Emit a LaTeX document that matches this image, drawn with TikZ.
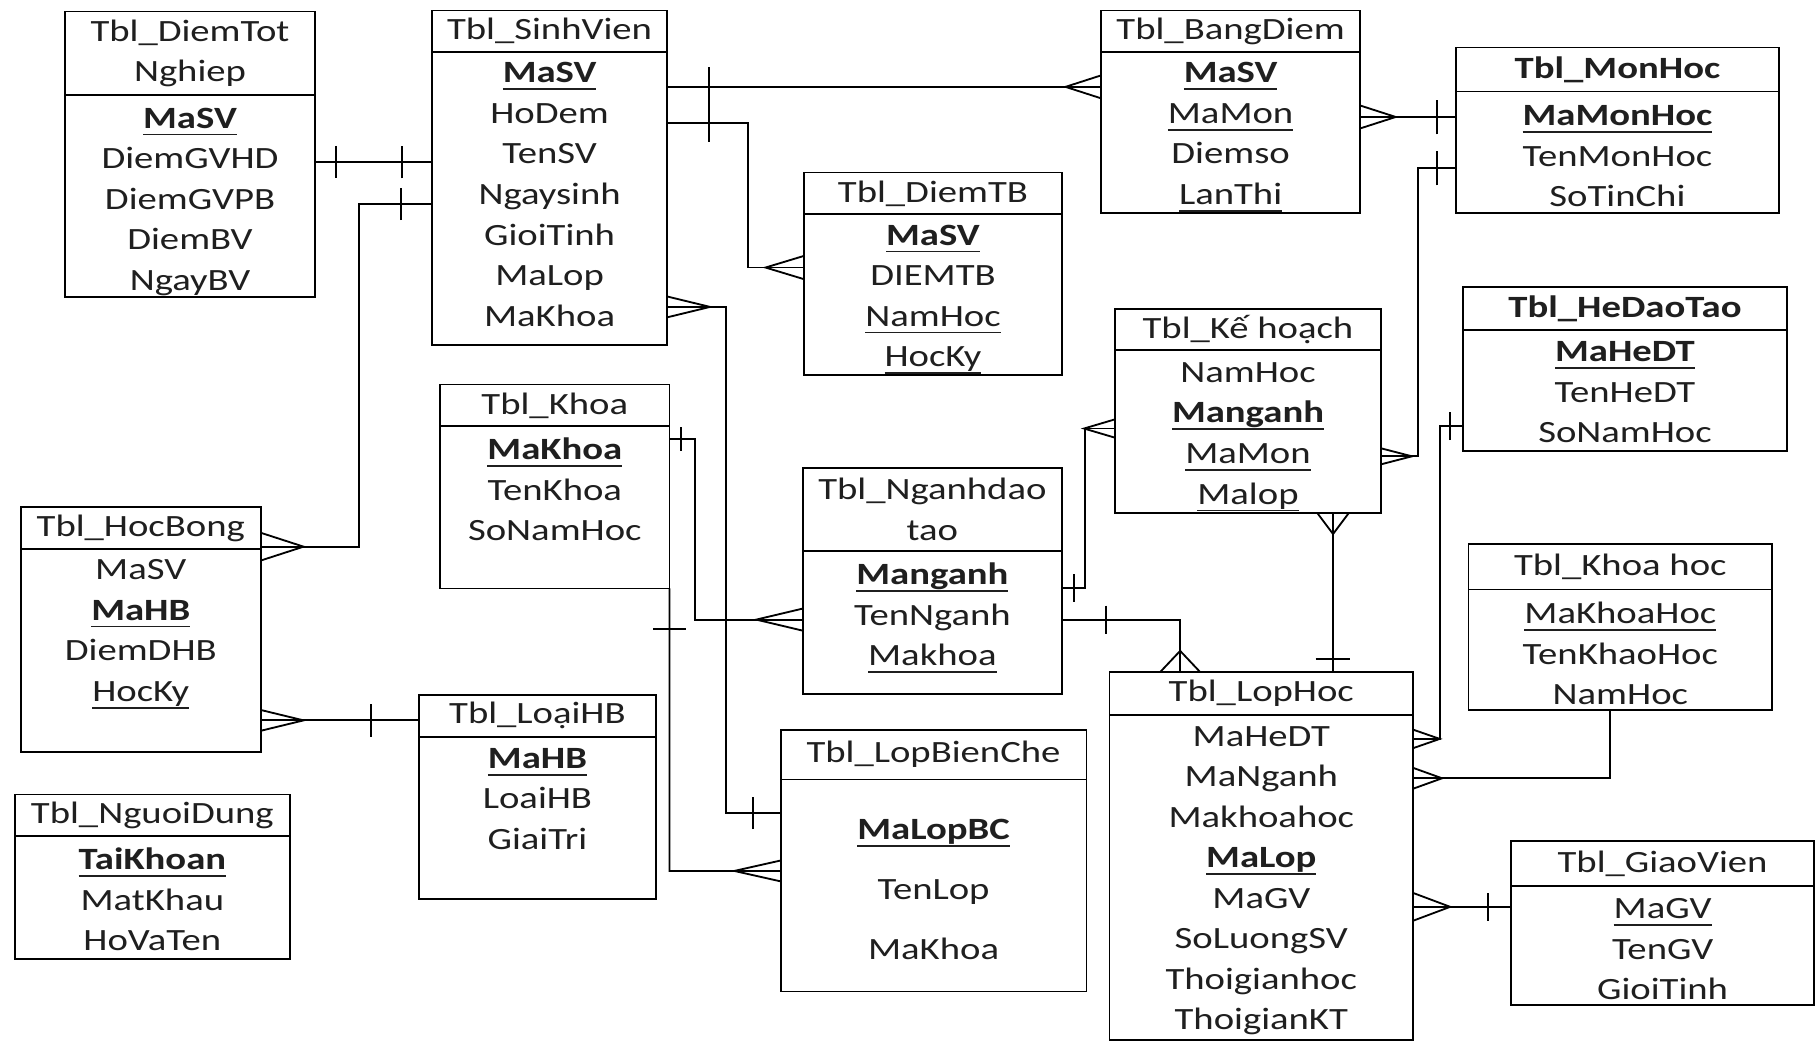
\documentclass[tikz,border=0pt]{standalone}
\usepackage{fontspec}
\setmainfont{Carlito}[FakeStretch=1.25]
\usetikzlibrary{positioning}

\newcommand{\tblfont}{\fontsize{7.6pt}{0.35cm}\selectfont}
\newcommand{\tblfontwide}{\fontsize{7.6pt}{0.52cm}\selectfont}
\newcommand{\keyul}[1]{\setbox0=\hbox{#1}\rlap{\rule[-1.8pt]{\wd0}{0.45pt}}\box0}
\newcommand{\pkey}[1]{\keyul{\textbf{#1}}}

\tikzset{
    tblhead/.style 2 args={
        draw, anchor=north west,
        minimum width=#1, minimum height=#2,
        inner sep=0pt, outer sep=0pt,
        align=center, font=\tblfont
    },
    tblbody/.style 2 args={
        draw, minimum width=#1, minimum height=#2,
        inner sep=0pt, outer sep=0pt
    },
    tblrows/.style={
        align=center, inner sep=0pt, outer sep=0pt, font=\tblfont
    },
    pics/bar/.style 2 args={
        code={\draw (#1,-#2) -- (#1,#2);}
    },
    pics/crow/.style 2 args={
        code={\draw (0,#2) -- (#1,0) -- (0,-#2);}
    }
}

\begin{document}
\begin{tikzpicture}[x=0.01cm, y=-0.01cm, line width=0.45pt, text=black!88]
\path[use as bounding box, fill=white] (0,0) rectangle (1568,900);

% Bảng
\node[tblhead={2.16cm}{0.72cm}] (dtn) at (56,10) {Tbl\_DiemTot\\Nghiep};
\node[tblbody={2.16cm}{1.74cm}, below=0pt of dtn] (dtn-b) {};
\node[tblrows, below=0.11cm of dtn] (dtn-r) {\pkey{MaSV}\\DiemGVHD\\DiemGVPB\\DiemBV\\NgayBV};

\node[tblhead={2.03cm}{0.36cm}] (sv) at (373,9) {Tbl\_SinhVien};
\node[tblbody={2.03cm}{2.53cm}, below=0pt of sv] (sv-b) {};
\node[tblrows, below=0.09cm of sv] (sv-r) {\pkey{MaSV}\\HoDem\\TenSV\\Ngaysinh\\GioiTinh\\MaLop\\MaKhoa};

\node[tblhead={2.23cm}{0.36cm}] (bd) at (951,9) {Tbl\_BangDiem};
\node[tblbody={2.23cm}{1.39cm}, below=0pt of bd] (bd-b) {};
\node[tblrows, below=0.09cm of bd] (bd-r) {\pkey{MaSV}\\\keyul{MaMon}\\Diemso\\\keyul{LanThi}};

\node[tblhead={2.79cm}{0.38cm}] (mh) at (1257,41) {\textbf{Tbl\_MonHoc}};
\node[tblbody={2.79cm}{1.05cm}, below=0pt of mh] (mh-b) {};
\node[tblrows, below=0.12cm of mh] (mh-r) {\pkey{MaMonHoc}\\TenMonHoc\\SoTinChi};

\node[tblhead={2.23cm}{0.36cm}] (dtb) at (694,149) {Tbl\_DiemTB};
\node[tblbody={2.23cm}{1.39cm}, below=0pt of dtb] (dtb-b) {};
\node[tblrows, below=0.09cm of dtb] (dtb-r) {\pkey{MaSV}\\DIEMTB\\\keyul{NamHoc}\\\keyul{HocKy}};

\node[tblhead={2.29cm}{0.35cm}] (kehoach) at (963,267) {Tbl\_Kế hoạch};
\node[tblbody={2.29cm}{1.41cm}, below=0pt of kehoach] (kehoach-b) {};
\node[tblrows, below=0.11cm of kehoach] (kehoach-r) {NamHoc\\\pkey{Manganh}\\\keyul{MaMon}\\\keyul{Malop}};

\node[tblhead={2.80cm}{0.37cm}] (hdt) at (1263,248) {\textbf{Tbl\_HeDaoTao}};
\node[tblbody={2.80cm}{1.04cm}, below=0pt of hdt] (hdt-b) {};
\node[tblrows, below=0.10cm of hdt] (hdt-r) {\pkey{MaHeDT}\\TenHeDT\\SoNamHoc};

\node[tblhead={1.98cm}{0.36cm}] (khoa) at (380,332) {Tbl\_Khoa};
\node[tblbody={1.98cm}{1.40cm}, below=0pt of khoa] (khoa-b) {};
\node[tblrows, below=0.10cm of khoa] (khoa-r) {\pkey{MaKhoa}\\TenKhoa\\SoNamHoc};

\node[tblhead={2.24cm}{0.72cm}] (nganh) at (693,404) {Tbl\_Nganhdao\\tao};
\node[tblbody={2.24cm}{1.23cm}, below=0pt of nganh] (nganh-b) {};
\node[tblrows, below=0.10cm of nganh] (nganh-r) {\pkey{Manganh}\\TenNganh\\\keyul{Makhoa}};

\node[tblhead={2.07cm}{0.36cm}] (hb) at (18,438) {Tbl\_HocBong};
\node[tblbody={2.07cm}{1.75cm}, below=0pt of hb] (hb-b) {};
\node[tblrows, below=0.09cm of hb] (hb-r) {MaSV\\\pkey{MaHB}\\DiemDHB\\\keyul{HocKy}};

\node[tblhead={2.62cm}{0.39cm}] (khoahoc) at (1268,470) {Tbl\_Khoa hoc};
\node[tblbody={2.62cm}{1.04cm}, below=0pt of khoahoc] (khoahoc-b) {};
\node[tblrows, below=0.11cm of khoahoc] (khoahoc-r) {\keyul{MaKhoaHoc}\\TenKhaoHoc\\NamHoc};

\node[tblhead={2.04cm}{0.36cm}] (lhb) at (362,600) {Tbl\_LoạiHB};
\node[tblbody={2.04cm}{1.40cm}, below=0pt of lhb] (lhb-b) {};
\node[tblrows, below=0.10cm of lhb] (lhb-r) {\pkey{MaHB}\\LoaiHB\\GiaiTri};

\node[tblhead={2.64cm}{0.43cm}] (lbc) at (674,630) {Tbl\_LopBienChe};
\node[tblbody={2.64cm}{1.83cm}, below=0pt of lbc] (lbc-b) {};
\node[tblrows, font=\tblfontwide, below=0.34cm of lbc] (lbc-r) {\pkey{MaLopBC}\\TenLop\\MaKhoa};

\node[tblhead={2.62cm}{0.37cm}] (lh) at (958,580) {Tbl\_LopHoc};
\node[tblbody={2.62cm}{2.81cm}, below=0pt of lh] (lh-b) {};
\node[tblrows, below=0.10cm of lh] (lh-r) {MaHeDT\\MaNganh\\Makhoahoc\\\pkey{MaLop}\\MaGV\\SoLuongSV\\Thoigianhoc\\ThoigianKT};

\node[tblhead={2.61cm}{0.39cm}] (gv) at (1305,726) {Tbl\_GiaoVien};
\node[tblbody={2.61cm}{1.03cm}, below=0pt of gv] (gv-b) {};
\node[tblrows, below=0.11cm of gv] (gv-r) {\keyul{MaGV}\\TenGV\\GioiTinh};

\node[tblhead={2.37cm}{0.36cm}] (nd) at (13,686) {Tbl\_NguoiDung};
\node[tblbody={2.37cm}{1.06cm}, below=0pt of nd] (nd-b) {};
\node[tblrows, below=0.10cm of nd] (nd-r) {\pkey{TaiKhoan}\\MatKhau\\HoVaTen};

% Quan hệ
\coordinate (j1) at (320,140);
\draw (dtn-b.east |- j1) -- (sv-b.west |- j1);
\pic at (dtn-b.east |- j1) {bar={18}{14}};
\pic[rotate=180] at (sv-b.west |- j1) {bar={26}{14}};

\coordinate (j2a) at (310,176);
\coordinate (j2b) at (310,472);
\draw (sv-b.west |- j2a) -- (j2a) -- (j2b) -- (hb.east |- j2b);
\pic[rotate=180] at (sv-b.west |- j2a) {bar={27}{14}};
\pic at (hb.east |- j2b) {crow={37}{12}};

\coordinate (j3) at (760,75);
\draw (sv-b.east |- j3) -- (bd-b.west |- j3);
\pic at (sv-b.east |- j3) {bar={36}{17}};
\pic[rotate=180] at (bd-b.west |- j3) {crow={31}{10}};

\coordinate (j4a) at (646,106);
\coordinate (j4b) at (646,231);
\draw (sv-b.east |- j4a) -- (j4a) -- (j4b) -- (dtb-b.west |- j4b);
\pic at (sv-b.east |- j4a) {bar={36}{17}};
\pic[rotate=180] at (dtb-b.west |- j4b) {crow={33}{10}};

\coordinate (j5a) at (627,265);
\coordinate (j5b) at (627,702);
\draw (sv-b.east |- j5a) -- (j5a) -- (j5b) -- (lbc-b.west |- j5b);
\pic at (sv-b.east |- j5a) {crow={37}{9}};
\pic[rotate=180] at (lbc-b.west |- j5b) {bar={24}{14}};

\coordinate (j6a) at (600,379);
\coordinate (j6b) at (600,535);
\draw (khoa-b.east |- j6a) -- (j6a) -- (j6b) -- (nganh-b.west |- j6b);
\pic at (khoa-b.east |- j6a) {bar={10}{10}};
\pic[rotate=180] at (nganh-b.west |- j6b) {crow={40}{9.5}};

\coordinate (j7) at (578,752);
\draw (khoa-b.south east) -- (j7) -- (lbc-b.west |- j7);
\pic[rotate=-90] at (khoa-b.south east) {bar={35}{14}};
\pic[rotate=180] at (lbc-b.west |- j7) {crow={40}{9}};

\coordinate (j8) at (290,622);
\draw (hb-b.east |- j8) -- (lhb.west |- j8);
\pic at (hb-b.east |- j8) {crow={37}{9}};
\pic[rotate=180] at (lhb.west |- j8) {bar={42}{14}};

\coordinate (j9a) at (937,508);
\coordinate (j9b) at (937,370);
\draw (nganh-b.east |- j9a) -- (j9a) -- (j9b) -- (kehoach-b.west |- j9b);
\pic at (nganh-b.east |- j9a) {bar={10}{12}};
\pic[rotate=180] at (kehoach-b.west |- j9b) {crow={27}{8}};

\coordinate (j10) at (1019,535);
\draw (nganh-b.east |- j10) -- (j10) -- (lh.north -| j10);
\pic at (nganh-b.east |- j10) {bar={38}{12}};
\pic[rotate=90] at (lh.north -| j10) {crow={18}{17}};

\coordinate (j11) at (1151,500);
\draw (kehoach-b.south -| j11) -- (lh.north -| j11);
\pic[rotate=-90] at (kehoach-b.south -| j11) {crow={18}{13.5}};
\pic[rotate=90] at (lh.north -| j11) {bar={11}{15}};

\coordinate (j12) at (1215,101);
\draw (bd-b.east |- j12) -- (mh-b.west |- j12);
\pic at (bd-b.east |- j12) {crow={31}{10}};
\pic[rotate=180] at (mh-b.west |- j12) {bar={16}{15}};

\coordinate (j13a) at (1224,394);
\coordinate (j13b) at (1224,145);
\draw (kehoach-b.east |- j13a) -- (j13a) -- (j13b) -- (mh-b.west |- j13b);
\pic at (kehoach-b.east |- j13a) {crow={27}{7}};
\pic[rotate=180] at (mh-b.west |- j13b) {bar={16}{15}};

\coordinate (j14a) at (1243,368);
\coordinate (j14b) at (1243,638);
\draw (hdt-b.west |- j14a) -- (j14a) -- (j14b) -- (lh-b.east |- j14b);
\pic[rotate=180] at (hdt-b.west |- j14a) {bar={11}{12}};
\pic at (lh-b.east |- j14b) {crow={23}{8}};

\coordinate (j15) at (1390,672);
\draw (khoahoc-b.south -| j15) -- (j15) -- (lh-b.east |- j15);
\pic at (lh-b.east |- j15) {crow={25}{9}};

\coordinate (j16) at (1262,783);
\draw (lh-b.east |- j16) -- (gv-b.west |- j16);
\pic at (lh-b.east |- j16) {crow={32}{12}};
\pic[rotate=180] at (gv-b.west |- j16) {bar={20}{12}};
\end{tikzpicture}
\end{document}
